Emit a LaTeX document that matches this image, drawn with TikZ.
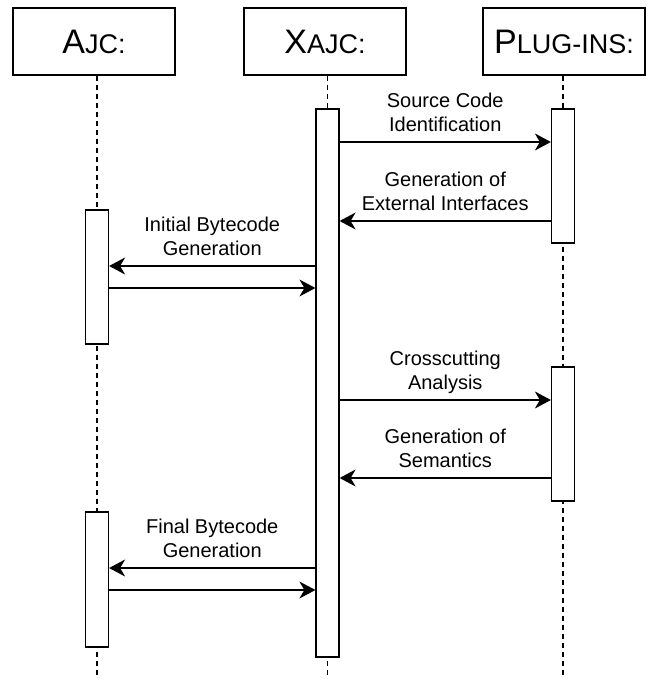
\documentclass[tikz,border=0pt]{standalone}
\usepackage{fontspec}
\setmainfont{Liberation Sans}
\usetikzlibrary{arrows.meta}
\newcommand{\hdrtxt}[2]{{\fontsize{34}{40}\selectfont #1}{\fontsize{27}{40}\selectfont #2}}
\tikzset{
  hdr/.style={draw=black, line width=1.2pt, fill=white, minimum width=162pt, minimum height=67pt, inner sep=0pt},
  bar/.style={draw=black, line width=1.2pt, fill=white, minimum width=23pt, inner sep=0pt},
  life/.style={black, line width=1.1pt, dash pattern=on 5pt off 4pt},
  msg/.style={black, line width=1.5pt, -{Stealth[length=16pt,width=17pt,inset=5pt]}},
  lbl/.style={align=center, inner sep=0pt, text depth=0pt, font=\fontsize{20}{24}\selectfont}
}
\begin{document}
\begin{tikzpicture}[x=1pt,y=-1pt]
\useasboundingbox (0,0) rectangle (647,679);
% headers
\node[hdr] (ajc) at (94,41.5) {\hdrtxt{A}{JC:}};
\node[hdr] (xajc) at (325,41.5) {\hdrtxt{X}{AJC:}};
\node[hdr] (plug) at (564,41.5) {\hdrtxt{P}{LUG-INS:}};
% lifeline ends
\coordinate (ajcEnd) at (97,679);
\coordinate (xajcEnd) at (327.5,679);
\coordinate (plugEnd) at (563,679);
\draw[life] (ajc.south -| ajcEnd) -- (ajcEnd);
\draw[life] (xajc.south -| xajcEnd) -- (xajcEnd);
\draw[life] (plug.south -| plugEnd) -- (plugEnd);
% activation bars
\node[bar, minimum height=548pt] (xb) at (327.5,383) {};
\node[bar, minimum height=134pt] (p1) at (563,176) {};
\node[bar, minimum height=134pt] (p2) at (563,434) {};
\node[bar, minimum height=134pt] (a1) at (97,277) {};
\node[bar, minimum height=135pt] (a2) at (97,579.5) {};
% messages
\coordinate (m1) at (0,142);
\coordinate (m2) at (0,221);
\coordinate (m3) at (0,266);
\coordinate (m4) at (0,288);
\coordinate (m5) at (0,400);
\coordinate (m6) at (0,478);
\coordinate (m7) at (0,568);
\coordinate (m8) at (0,590);
\draw[msg] (xb.east |- m1) -- node[lbl, yshift=30pt] (l1) {Source Code\\Identification} (p1.west |- m1);
\draw[msg] (p1.west |- m2) -- node[lbl, yshift=30pt] (l2) {Generation of\\External Interfaces} (xb.east |- m2);
\draw[msg] (xb.west |- m3) -- node[lbl, yshift=30pt] (l3) {Initial Bytecode\\Generation} (a1.east |- m3);
\draw[msg] (a1.east |- m4) -- (xb.west |- m4);
\draw[msg] (xb.east |- m5) -- node[lbl, yshift=30pt] (l5) {Crosscutting\\Analysis} (p2.west |- m5);
\draw[msg] (p2.west |- m6) -- node[lbl, yshift=30pt] (l6) {Generation of\\Semantics} (xb.east |- m6);
\draw[msg] (xb.west |- m7) -- node[lbl, yshift=30pt] (l7) {Final Bytecode\\Generation} (a2.east |- m7);
\draw[msg] (a2.east |- m8) -- (xb.west |- m8);
\end{tikzpicture}
\end{document}
